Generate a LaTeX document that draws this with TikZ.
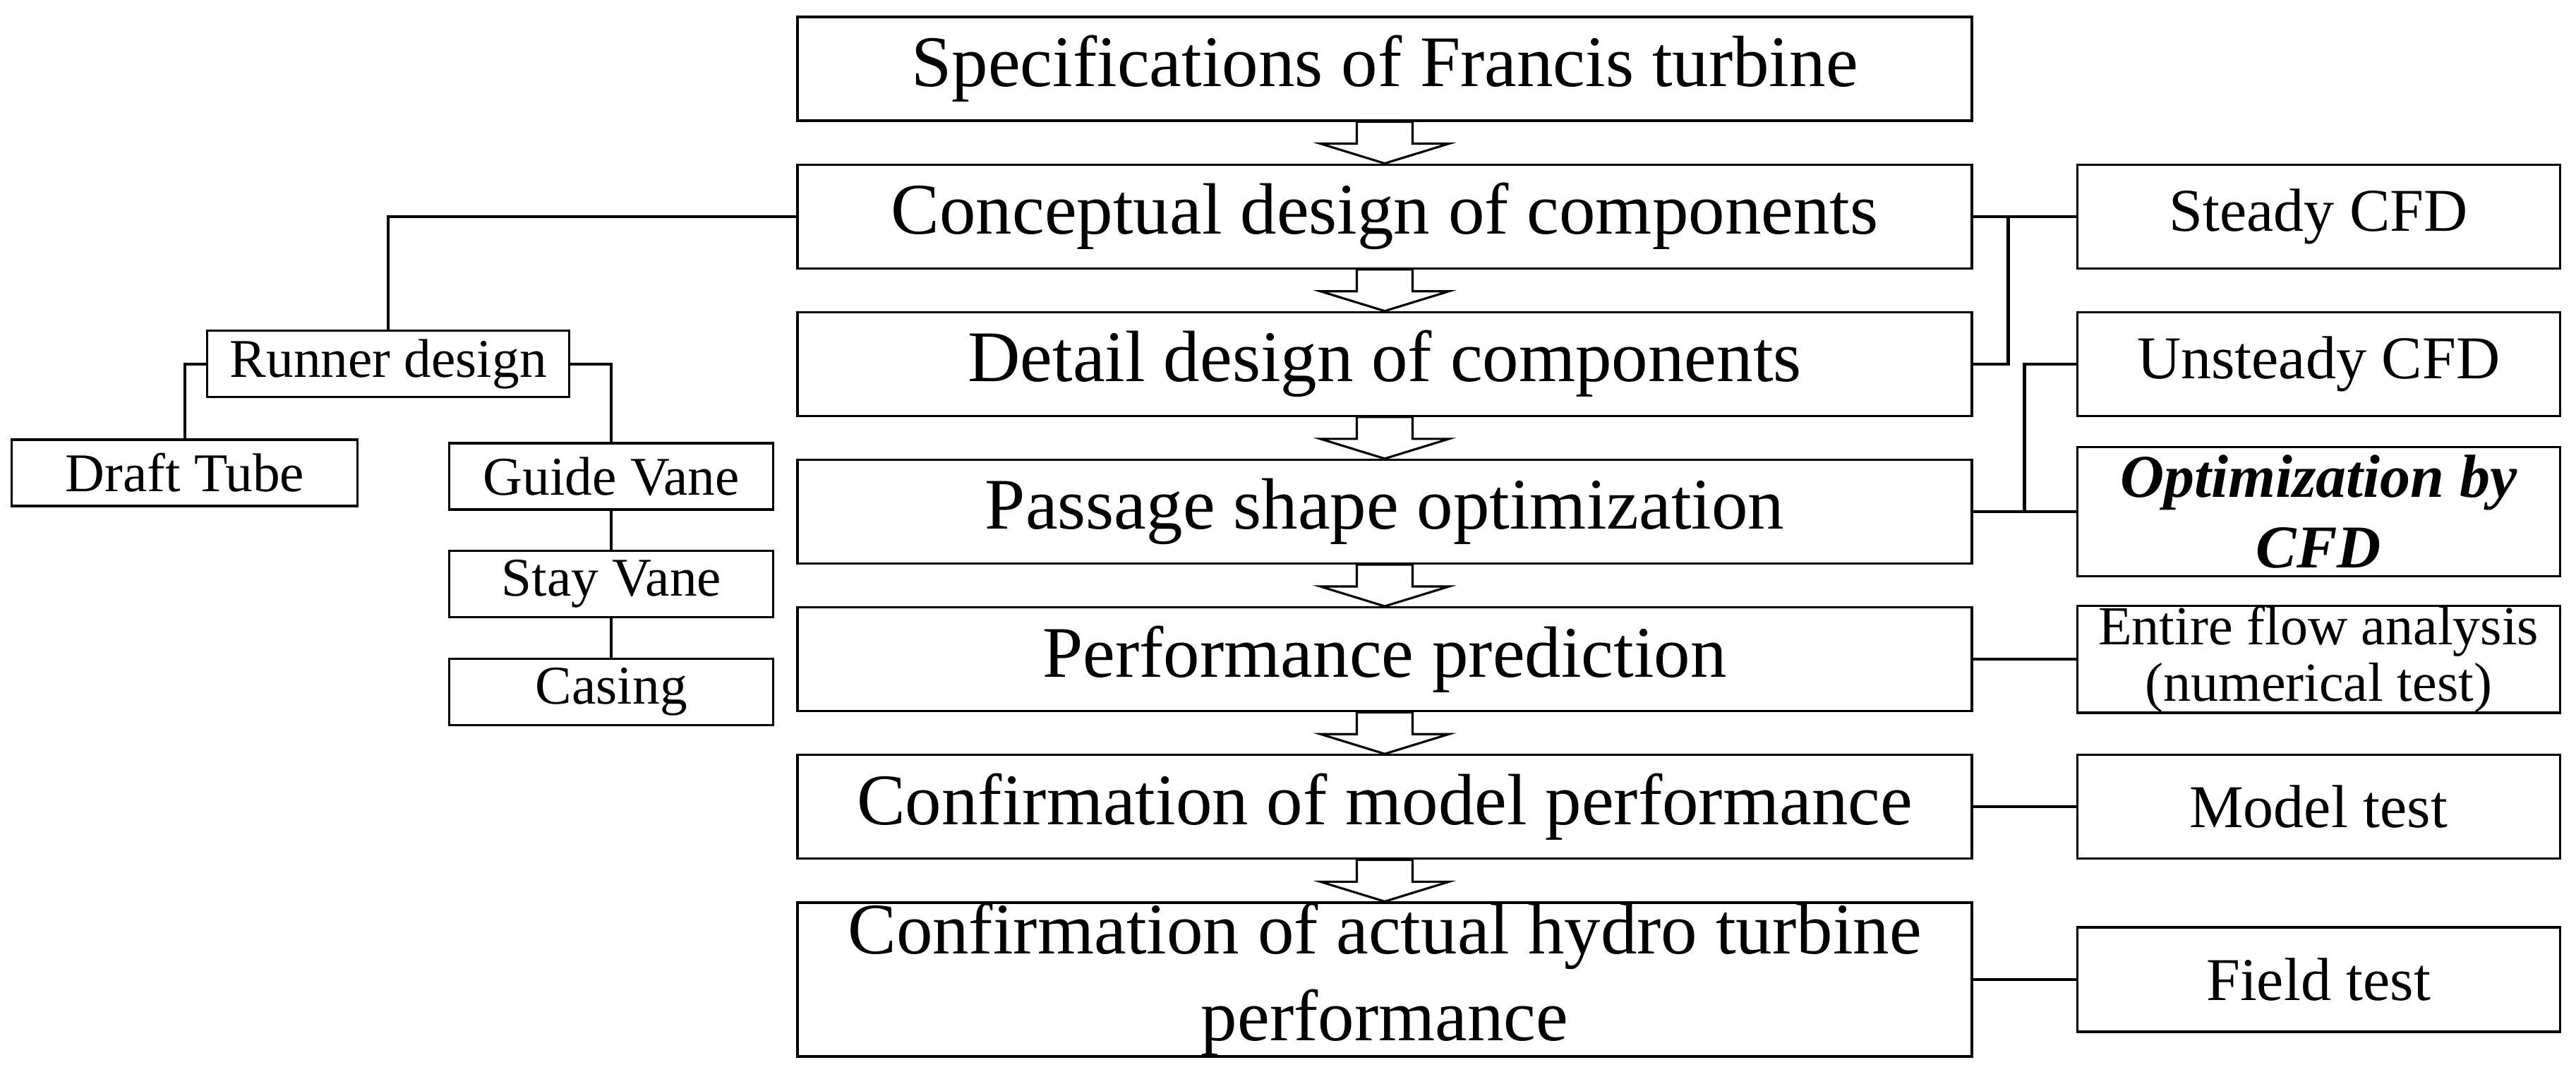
\documentclass[tikz,border=0pt]{standalone}
\usepackage{fontspec}
\setmainfont{Liberation Serif}
\usetikzlibrary{positioning, calc}

\begin{document}
\begin{tikzpicture}[node distance = 0.59cm,
  mainbox/.style={draw, line width=0.9pt, inner sep=0pt, minimum width=16.64cm, minimum height=1.47cm, align=center, font=\fontsize{29.3}{35}\selectfont},
  sidebox/.style={draw, line width=0.9pt, inner sep=0pt, minimum width=6.84cm, minimum height=1.47cm, align=center, font=\fontsize{24.5}{28.4}\selectfont},
  partbox/.style={draw, line width=0.9pt, inner sep=0pt, minimum height=0.94cm, font=\fontsize{22}{26}\selectfont},
  link/.style={line width=1.2pt},
  hollow/.style={line width=0.9pt}]
\useasboundingbox (0,0) rectangle (36.5,-15.19);

\node[mainbox](spec) at (19.62,-0.975){Specifications of Francis turbine};
\node[mainbox, below = of spec](concept){Conceptual design of components};
\node[mainbox, below = of concept](detail){Detail design of components};
\node[mainbox, below = of detail](passage){Passage shape optimization};
\node[mainbox, below = of passage](perf){Performance prediction};
\node[mainbox, below = of perf](model){Confirmation of model performance};
\node[mainbox, below = of model, minimum height=2.18cm](actual){Confirmation of actual hydro turbine\\performance};

%CFD and tests
\node[sidebox, right = 1.46cm of concept](steady){Steady CFD};
\node[sidebox, right = 1.46cm of detail](unsteady){Unsteady CFD};
\node[sidebox, right = 1.46cm of passage, minimum height=1.83cm, font=\fontsize{24.5}{28.4}\selectfont\bfseries\itshape](opt){Optimization by\\CFD};
\node[sidebox, right = 1.46cm of perf, font=\fontsize{22.2}{22.8}\selectfont](entire){Entire flow analysis\\(numerical test)};
\node[sidebox, right = 1.46cm of model](modeltest){Model test};
\node[sidebox, right = 1.46cm of actual, minimum height=1.48cm](field){Field test};

%components
\node[partbox, minimum width=5.13cm, left = 3.2cm of detail](runner){Runner design};
\node[partbox, minimum width=4.9cm, below = 0.57cm of runner.south, xshift=-2.885cm](draft){Draft Tube};
\node[partbox, minimum width=4.59cm, below = 0.62cm of runner.south, xshift=3.16cm](guide){Guide Vane};
\node[partbox, minimum width=4.59cm, below = 0.555cm of guide](stay){Stay Vane};
\node[partbox, minimum width=4.59cm, below = 0.555cm of stay](casing){Casing};

%lines
\draw[link] (concept.west) -| (runner.north);
\draw[link] (runner.west) -| (draft.north);
\draw[link] (runner.east) -| (guide.north);
\draw[link] (guide) -- (stay);
\draw[link] (stay) -- (casing);

\coordinate (steadyjoin) at ($(concept.east)+(0.5,0)$);
\coordinate (cfdjoin) at ($(passage.east)!0.5!(opt.west)$);
\draw[link] (concept.east) -- (steady.west);
\draw[link] (detail.east) -| (steadyjoin);
\draw[link] (passage.east) -- (opt.west);
\draw[link] (unsteady.west) -| (cfdjoin);
\draw[link] (perf) -- (entire);
\draw[link] (model) -- (modeltest);
\draw[link] (actual) -- (field);

%arrows
\foreach \a/\b in {spec/concept, concept/detail, detail/passage, passage/perf, perf/model, model/actual}
  \draw[hollow] (\a.south) ++(-0.395,0) |- ($(\b.north)+(-0.91,0.28)$) -- (\b.north) -- ++(0.91,0.28) -| ($(\a.south)+(0.395,0)$) -- cycle;

\end{tikzpicture}
\end{document}
